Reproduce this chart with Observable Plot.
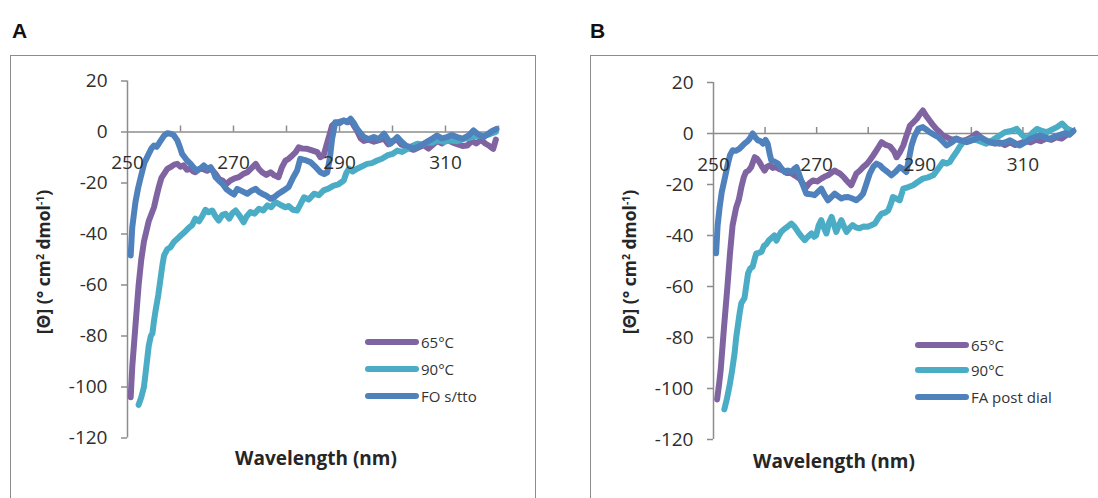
<!DOCTYPE html>
<html>
<head>
<meta charset="utf-8">
<script src="https://cdn.jsdelivr.net/npm/d3@7"></script>
<script src="https://cdn.jsdelivr.net/npm/@observablehq/plot@0.6"></script>
<style>
  html, body { margin: 0; padding: 0; background: #fff; }
  body { width: 1098px; height: 498px; overflow: hidden; position: relative; font-family: "Open Sans", Lato, sans-serif; color: #262626; }
  .frame { position: absolute; border: 1.5px solid #8c8c8c; box-sizing: border-box; }
  .letter { position: absolute; font: bold 21px "Liberation Sans", Arial, sans-serif; color: #111; line-height: 1; }
  .ytitle { position: absolute; white-space: nowrap; font-weight: 700; font-size: 17.5px; transform: translate(-50%, -50%) rotate(-90deg); line-height: 1; color: #262626; }
  .ytitle sup { font-size: 10.5px; vertical-align: 6px; }
  .xtitle { position: absolute; white-space: nowrap; font-weight: 700; font-size: 19px; transform: translate(-50%, -50%); line-height: 1; color: #262626; }
  .leg-line { position: absolute; height: 6px; border-radius: 3px; transform: translateY(-50%); }
  .leg-text { position: absolute; font-size: 15px; line-height: 1; transform: translateY(-50%); white-space: nowrap; color: #333; }
  svg { position: absolute; top: 0; }
</style>
</head>
<body>
<script>
// ---------- data ----------
const yTicks = [20, 0, -20, -40, -60, -80, -100, -120];
const xLabelTicks = [250, 270, 290, 310];
const xMinorTicks = [260, 270, 280, 290, 300, 310, 320];
const seriesNamesA = ["65°C", "90°C", "FO s/tto"];
const seriesNamesB = ["65°C", "90°C", "FA post dial"];
const colors = ["#8064A2", "#4BACC6", "#4F81BD"];

// Panel A  [wavelength nm, ellipticity]
const A_65C = [[250.6,-104],[250.9,-92],[251.5,-76],[252.1,-60],[252.6,-50],[253.1,-43],[254,-35],[255,-29.5],[255.5,-25],[255.9,-21.6],[256.4,-18],[256.9,-16.4],[257.5,-14.5],[258.1,-13.8],[258.8,-12.8],[259.4,-12.5],[260,-13.6],[260.6,-13.1],[261.2,-14.8],[261.9,-14.4],[262.4,-15.5],[262.8,-15.8],[263.5,-14.6],[264.1,-14.4],[265,-15.2],[265.7,-14.4],[266.2,-15.5],[266.6,-16.4],[267.3,-18.5],[267.9,-19],[268.6,-20.5],[269.4,-19],[270.2,-18.2],[271,-17.7],[271.8,-16.5],[272.6,-15.8],[273.4,-14.2],[274.2,-12.5],[274.8,-14.5],[275.4,-15.8],[276.2,-16.8],[277,-15.8],[277.7,-17],[278.5,-17.7],[279.1,-14],[279.8,-11.2],[280.4,-10.5],[281.1,-9.2],[281.7,-8],[282.3,-6],[283,-6.5],[283.9,-6.6],[284.8,-7.2],[285.8,-7.9],[286.4,-9.9],[287,-9.2],[287.7,-4],[288.2,-0.5],[288.6,2.5],[289.2,3.5],[290,4],[290.8,4.5],[291.5,3.8],[292.1,4.8],[292.7,2.5],[293.3,0.5],[294,-2.5],[294.6,-3.5],[295.5,-3],[296.5,-3.8],[297.5,-3.2],[298.4,-2.5],[299.2,-4.8],[300,-3.5],[300.9,-3],[301.7,-5],[302.5,-5.5],[303.3,-6.5],[304,-7],[305,-6],[305.9,-5.2],[306.8,-6.5],[307.6,-5],[308.4,-3.5],[309.3,-4.5],[310.3,-3],[311.2,-4],[312.2,-4.8],[313.2,-5.5],[314.1,-5.3],[315,-3.5],[315.8,-4.5],[316.7,-3],[317.5,-4.5],[318.3,-5.5],[319,-6.6],[319.5,-3]];
const A_90C = [[252.1,-107],[252.6,-104],[253.1,-100],[253.5,-93],[254,-84],[254.4,-80],[254.7,-79],[255,-74],[255.3,-70],[255.8,-64],[256.2,-58],[256.6,-52],[256.9,-48.4],[257.5,-46],[258.1,-45.2],[258.8,-43],[259.4,-41.9],[260.1,-40.5],[260.9,-39],[261.6,-37.5],[262.2,-36.5],[262.8,-34],[263.5,-35],[264.1,-33],[264.7,-30.5],[265.3,-31.5],[266,-30.8],[266.6,-33],[267.2,-34.7],[267.9,-32.5],[268.5,-32.1],[269.2,-34],[269.8,-31.8],[270.4,-30.8],[271.2,-33],[271.9,-35.4],[272.5,-33],[273.2,-31.4],[274,-32],[274.8,-30.1],[275.6,-30.8],[276.4,-28.8],[277.1,-29.5],[277.9,-27.5],[278.8,-28.5],[279.8,-29.5],[280.4,-29],[281.2,-30.5],[282,-30.8],[282.6,-28.5],[283.3,-25.6],[284.2,-26.5],[285.2,-24.2],[286.1,-24.8],[287,-22.9],[287.9,-22.2],[288.9,-21],[289.8,-20.5],[290.8,-19],[291.3,-16],[291.8,-14.4],[292.5,-15.5],[293.3,-14.4],[294.2,-13.5],[295.2,-12.5],[296.1,-12.2],[297.1,-11.2],[298,-10.5],[299,-9.2],[300,-8.6],[300.9,-7.3],[301.8,-7.8],[302.8,-6.6],[303.7,-5.5],[304.7,-4.6],[305.6,-5],[306.5,-4],[307.5,-4.2],[308.4,-3.3],[309.7,-3.8],[311,-3.3],[312.2,-3.6],[313.5,-2.7],[314.7,-2.2],[316,-1.4],[317.2,-1.5],[318.4,-0.8],[319.5,0]];
const A_FO = [[250.6,-48.4],[250.9,-37.3],[251.5,-27.5],[252,-22],[252.5,-17.7],[253.2,-12],[254,-8.6],[254.5,-6.5],[255,-5.3],[255.5,-5.8],[255.9,-4.6],[256.4,-3],[256.9,-1.4],[257.5,-0.5],[258.1,-0.7],[258.7,-1.2],[259.4,-3.3],[259.9,-6],[260.3,-8.6],[261.1,-10.8],[261.9,-12.5],[262.5,-14],[263.1,-15.1],[263.8,-14.2],[264.4,-13.1],[265.1,-14.5],[265.7,-13.8],[266.2,-15.5],[266.6,-17.7],[267.3,-19.2],[267.9,-20.3],[268.7,-22.5],[269.4,-23.6],[270.1,-24.5],[270.7,-22.3],[271.6,-23.2],[272.6,-24.2],[273.4,-23],[274.2,-22.3],[274.8,-23.5],[275.4,-24.2],[276.2,-25],[277,-26.2],[277.7,-25.5],[278.5,-24.2],[279.4,-23],[280.4,-21.6],[281.2,-18],[282,-15.1],[282.6,-10.5],[283.5,-11],[284.5,-11.8],[285.4,-13.5],[286.4,-15.8],[287.1,-16.5],[287.7,-15.8],[288.2,-10],[288.6,-2.7],[289.2,3.8],[290,3.5],[290.8,4.5],[291.5,4],[292.1,5.2],[292.7,3.5],[293.3,1.3],[294,-0.5],[294.6,-2],[295.5,-2.8],[296.5,-2],[297.4,-2.8],[298.4,-0.7],[299,-2.5],[299.6,-4.6],[300.2,-3.5],[300.9,-2],[301.7,-3.8],[302.5,-5.3],[303.2,-5.8],[304,-6.6],[305,-5.6],[305.9,-4.6],[306.8,-3.5],[307.6,-2.5],[308.4,-1.4],[309.3,-2.5],[310.3,-2],[311.2,-1.2],[312.2,-2],[313.2,-2.6],[314.3,-1.5],[315.3,0.6],[316.2,-1],[317.2,-2],[318,-0.8],[318.8,0.4],[319.6,1.2]];

// Panel B
const B_65C = [[250.7,-104.3],[251.1,-98],[251.4,-92.6],[252,-77],[252.7,-60],[253.2,-47],[253.7,-36],[254.4,-29],[254.9,-26],[255.4,-21],[255.9,-17],[256.3,-15.1],[256.8,-14.5],[257.3,-13.2],[257.7,-11],[258,-9.3],[258.4,-9.8],[258.9,-11.2],[259.4,-13],[259.9,-14.5],[260.4,-13],[260.9,-12.5],[261.5,-13.5],[262.2,-13.2],[262.8,-14],[263.5,-14.5],[264.2,-15.5],[265,-15.5],[265.8,-16.5],[266.7,-17.7],[267.3,-19.5],[268,-21],[268.6,-19.5],[269.3,-18.4],[270.1,-18.8],[270.9,-17.7],[271.5,-17],[272.2,-16.4],[272.8,-15.5],[273.5,-14.5],[274,-15.2],[274.5,-15.7],[275.2,-17],[275.8,-18.4],[276.3,-19.5],[276.7,-20.3],[277.2,-18],[277.7,-15.7],[278.4,-14.5],[279,-13.2],[279.7,-12],[280.3,-10.5],[281,-8.5],[281.6,-6.6],[282.1,-5],[282.6,-3.4],[283.4,-4.5],[284.2,-5],[285,-7],[285.5,-9.3],[286.1,-7.5],[286.8,-4.7],[287.4,-1],[288.1,3.1],[288.8,4.5],[289.4,5.7],[290,7.5],[290.6,9],[291.2,7],[291.9,5.1],[292.5,3.5],[293.2,1.8],[293.9,0.5],[294.5,-0.8],[295.3,-1.5],[296.2,-2.5],[297.1,-2],[298,-3],[299,-2.5],[300,-1.5],[301,0],[301.8,-1.5],[302.7,-3],[303.6,-3.5],[304.6,-4],[305.5,-3.5],[306.5,-4.5],[307.5,-3.5],[308.5,-4.5],[309.5,-3.8],[310.5,-3],[311.5,-3.5],[312.5,-2.5],[313.5,-3],[314.5,-2],[315.5,-2.5],[316.5,-1.5],[317.5,-2],[318.5,-0.5],[319.5,0.5]];
const B_90C = [[252.1,-108.2],[252.6,-104],[253.1,-99.1],[253.6,-93],[254.1,-86],[254.4,-80],[254.7,-75.7],[255.1,-70],[255.4,-66.5],[256,-64.6],[256.4,-59],[256.7,-54.8],[257.1,-53],[257.6,-52.2],[258,-49],[258.3,-47],[258.8,-46.8],[259.3,-46.4],[259.8,-44],[260.2,-43.5],[260.7,-42],[261.2,-41.1],[261.8,-40],[262.2,-42],[262.7,-40],[263.1,-38.6],[263.7,-37.5],[264.4,-36.5],[265.1,-35.3],[265.7,-36.5],[266.4,-38.6],[267.1,-40.5],[267.7,-41.8],[268.3,-40.5],[269,-39.2],[269.5,-40.5],[269.9,-40],[270.4,-36],[270.9,-34],[271.4,-37],[271.9,-39.2],[272.4,-35],[272.9,-32.7],[273.4,-36],[273.8,-38.6],[274.3,-36],[274.8,-34],[275.3,-36.5],[275.8,-38.6],[276.4,-37],[277,-35.9],[277.6,-36.8],[278.3,-37.2],[279.1,-36.5],[279.9,-36.6],[280.6,-36],[281.3,-35.3],[282,-33],[282.6,-31.4],[283.3,-31],[283.9,-30.1],[284.4,-27.5],[284.8,-24.9],[285.4,-25.5],[286.1,-26.2],[286.8,-21.6],[287.8,-21],[288.7,-20.3],[289.6,-19],[290.6,-17.7],[291.6,-17.2],[292.6,-16.4],[293.5,-14],[294.5,-11.2],[295.2,-11.8],[295.8,-11.2],[296.5,-9],[297.1,-7.3],[297.8,-5],[298.4,-3.4],[299.3,-3],[300.3,-2.1],[301.6,-3],[302.9,-4],[304.2,-2.5],[305.5,-0.8],[306.5,0.5],[307.7,1],[308.8,1.8],[309.8,-0.5],[310.7,-2.1],[311.7,0],[312.7,1.8],[313.7,1],[314.6,0.5],[315.6,1.5],[316.6,2.5],[317.6,3.9],[318.5,2],[319.5,1]];
const B_FA = [[250.5,-47],[250.8,-36],[251.2,-28.8],[251.6,-23],[252.1,-18.4],[252.8,-11.8],[253.2,-8.5],[253.7,-6.6],[254.3,-6.8],[255,-6],[255.5,-5],[256,-4],[256.5,-3.2],[257,-2.1],[257.6,0],[258.1,-1.5],[258.6,-2.7],[259.1,-3],[259.6,-4],[260.1,-2.5],[260.5,-4],[260.9,-8],[261.2,-10.5],[261.8,-11],[262.5,-11.8],[263.1,-13.5],[263.8,-15.1],[264.4,-14.5],[265.1,-15.1],[265.6,-14],[266.1,-13.2],[266.6,-16],[267,-18.4],[267.5,-21],[268,-23.6],[268.8,-23.8],[269.6,-24.2],[270.2,-23],[270.9,-21.6],[271.5,-24],[272.2,-26.2],[272.8,-25],[273.5,-23.6],[274.1,-24.5],[274.8,-25.5],[275.4,-25],[276.1,-24.9],[276.9,-25.5],[277.7,-26.2],[278.4,-25],[279,-23.6],[279.6,-20],[280.3,-15.7],[281,-13],[281.6,-11.8],[282.3,-12.5],[282.9,-13.8],[283.7,-15],[284.5,-16.4],[285.3,-15],[286.1,-13.2],[286.8,-14],[287.4,-15.1],[287.9,-10],[288.4,-4.7],[289,-1],[289.7,1.8],[290.2,2.2],[290.6,2.5],[291.3,1.5],[291.9,0.5],[292.8,-0.5],[293.6,-1.4],[294.4,-3],[295.2,-4.7],[296.2,-3.5],[297.1,-2.1],[298.1,-2.8],[299.1,-3.4],[300.4,-2.5],[301.7,-1.4],[302.7,-2.5],[303.6,-3.4],[304.5,-3.6],[305.5,-4],[306.5,-3.5],[307.5,-2.7],[308.5,-3.8],[309.4,-4.7],[310.4,-3.5],[311.4,-2.1],[312.4,-1.4],[313.3,-0.8],[314.3,-1.5],[315.2,-2.1],[316.2,-1.2],[317.2,-0.5],[318.2,0.2],[319,-0.5],[319.8,1]];

// ---------- drawing ----------
const AXIS = "#8c8c8c";
const TEXT = "#2e2e2e";

function panel(series, m) {
  const pxPerUnit = (498 - m.top - m.bottom) / 140;
  const tickLen = 6 / pxPerUnit;
  const lineMarks = series.map((s, i) =>
    Plot.line(s, {x: d => d[0], y: d => d[1], stroke: colors[i], strokeWidth: 6,
                  strokeLinejoin: "round", strokeLinecap: "round"}));
  return Plot.plot({
    width: 549, height: 498,
    marginLeft: m.left, marginRight: m.right, marginTop: m.top, marginBottom: m.bottom,
    style: {fontFamily: "'Open Sans', Lato, sans-serif", background: "transparent", overflow: "visible"},
    x: {domain: [250, 320], axis: null},
    y: {domain: [-120, 20], axis: null},
    marks: [
      Plot.ruleX([250], {stroke: AXIS, strokeWidth: 1.5}),
      Plot.ruleY([0], {stroke: AXIS, strokeWidth: 1.5}),
      Plot.axisY(yTicks, {tickSize: 6, tickPadding: 14, stroke: AXIS, fill: TEXT, fontSize: 19,
                          tickFormat: d => String(d), strokeWidth: 1.5}),
      Plot.ruleX(xMinorTicks, {x: d => d, y1: 0, y2: tickLen, stroke: AXIS, strokeWidth: 1.5}),
      ...lineMarks,
      Plot.text(xLabelTicks, {x: d => d, y: 0, dy: 31, text: d => String(d), fill: TEXT, fontSize: 19})
    ]
  });
}

const svgA = panel([A_65C, A_90C, A_FO], {left: 127, right: 51, top: 80.5, bottom: 60.5});
svgA.style.left = "0px";
const svgB = panel([B_65C, B_90C, B_FA], {left: 164, right: 24, top: 82, bottom: 59});
svgB.style.left = "549px";

function el(cls, css, html) {
  const d = document.createElement("div");
  d.className = cls;
  Object.assign(d.style, css);
  if (html != null) d.innerHTML = html;
  document.body.appendChild(d);
  return d;
}

// frames
el("frame", {left: "10px", top: "55px", width: "526px", height: "460px"});
el("frame", {left: "590px", top: "55px", width: "540px", height: "460px"});
document.body.appendChild(svgA);
document.body.appendChild(svgB);

// panel letters
el("letter", {left: "12px", top: "20px"}, "A");
el("letter", {left: "590px", top: "20px"}, "B");

// axis titles
const yTitle = "[Θ] (° cm<sup>2</sup> dmol<sup>-1</sup>)";
el("ytitle", {left: "44px", top: "262px"}, yTitle);
el("ytitle", {left: "630px", top: "262px"}, yTitle);
el("xtitle", {left: "316px", top: "458px"}, "Wavelength (nm)");
el("xtitle", {left: "834px", top: "461px"}, "Wavelength (nm)");

// legends
function legend(names, x0, x1, rows) {
  names.forEach((n, i) => {
    el("leg-line", {left: x0 + "px", width: (x1 - x0) + "px", top: rows[i] + "px", background: colors[i]});
    el("leg-text", {left: (x1 + 2) + "px", top: rows[i] + "px"}, n);
  });
}
legend(seriesNamesA, 365, 419, [342, 368.5, 396]);
legend(seriesNamesB, 915, 969, [344.5, 370, 397]);
</script>
</body>
</html>
